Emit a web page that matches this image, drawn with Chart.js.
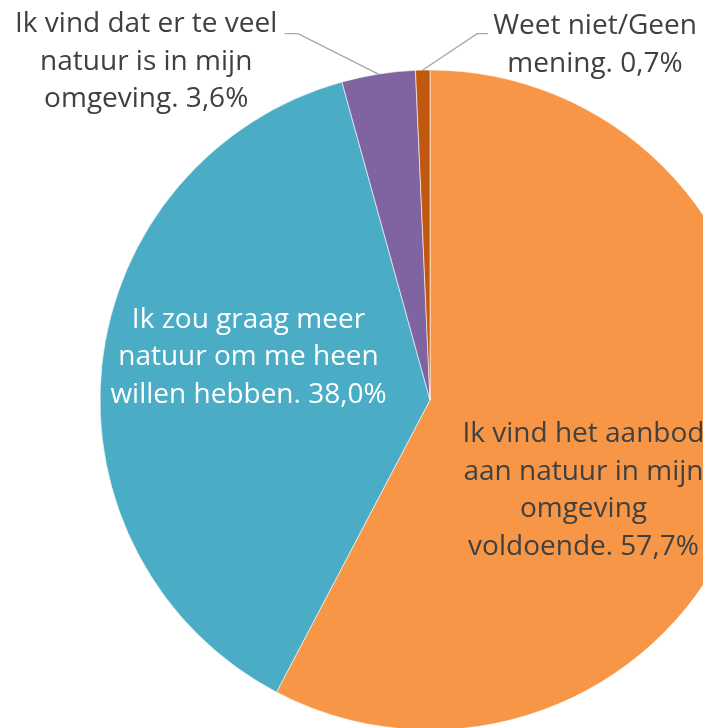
<!DOCTYPE html>
<html>
<head>
<meta charset="utf-8">
<script src="https://cdn.jsdelivr.net/npm/chart.js@4/dist/chart.umd.min.js"></script>
<style>
html,body{margin:0;padding:0;overflow:hidden;background:#fff;width:703px;height:728px;}
canvas{display:block;}
</style>
</head>
<body>
<canvas id="c" width="860" height="800"></canvas>
<script>
const categories = [
  "Ik vind het aanbod aan natuur in mijn omgeving voldoende.",
  "Ik zou graag meer natuur om me heen willen hebben.",
  "Ik vind dat er te veel natuur is in mijn omgeving.",
  "Weet niet/Geen mening."
];
const values = [57.7, 38.0, 3.6, 0.7];
const labelLines = [
  ["Ik vind het aanbod", "aan natuur in mijn", "omgeving", "voldoende. 57,7%"],
  ["Ik zou graag meer", "natuur om me heen", "willen hebben. 38,0%"],
  ["Ik vind dat er te veel", "natuur is in mijn", "omgeving. 3,6%"],
  ["Weet niet/Geen", "mening. 0,7%"]
];
const colors = ["#F79646", "#4BACC6", "#8064A2", "#C0580F"];
const textColors = ["#404040", "#ffffff", "#404040", "#404040"];

// label placement as fractions of the radius relative to center
const labelPos = [
  {fx: 0.465, fy: 0.275, outside: false},
  {fx: -0.55, fy: -0.13, outside: false},
  {fx: -0.86, fy: -1.025, outside: true, elbow: [-0.40, -1.11], end: [-0.44, -1.11]},
  {fx: 0.50, fy: -1.075, outside: true, elbow: [0.143, -1.11], end: [0.175, -1.11]}
];

const FONT = '28px "Open Sans", sans-serif';
const LINE_H = 37.5;

const labelPlugin = {
  id: 'sliceLabels',
  afterDatasetsDraw(chart) {
    const ctx = chart.ctx;
    const meta = chart.getDatasetMeta(0);
    ctx.save();
    ctx.font = FONT;
    ctx.textAlign = 'center';
    ctx.textBaseline = 'middle';
    meta.data.forEach((arc, i) => {
      const {x, y, outerRadius, startAngle, endAngle} = arc.getProps(['x','y','outerRadius','startAngle','endAngle'], true);
      const r = outerRadius;
      const p = labelPos[i];
      if (p.outside) {
        const mid = (startAngle + endAngle) / 2;
        const ex = x + Math.cos(mid) * r;
        const ey = y + Math.sin(mid) * r;
        ctx.strokeStyle = '#A6A6A6';
        ctx.lineWidth = 1.3;
        ctx.beginPath();
        ctx.moveTo(ex, ey);
        ctx.lineTo(x + p.elbow[0]*r, y + p.elbow[1]*r);
        ctx.lineTo(x + p.end[0]*r, y + p.end[1]*r);
        ctx.stroke();
      }
      const lines = labelLines[i];
      const cx = x + p.fx * r;
      const cy = y + p.fy * r;
      ctx.fillStyle = textColors[i];
      lines.forEach((t, k) => {
        ctx.fillText(t, cx, cy + (k - (lines.length - 1) / 2) * LINE_H);
      });
    });
    ctx.restore();
  }
};

new Chart(document.getElementById('c'), {
  type: 'pie',
  data: {
    labels: categories,
    datasets: [{
      data: values,
      backgroundColor: colors,
      borderColor: '#ffffff',
      borderWidth: 0.6
    }]
  },
  options: {
    responsive: false,
    animation: false,
    radius: 330,
    layout: {padding: 0},
    plugins: {legend: {display: false}, tooltip: {enabled: false}}
  },
  plugins: [labelPlugin]
});
</script>
</body>
</html>
